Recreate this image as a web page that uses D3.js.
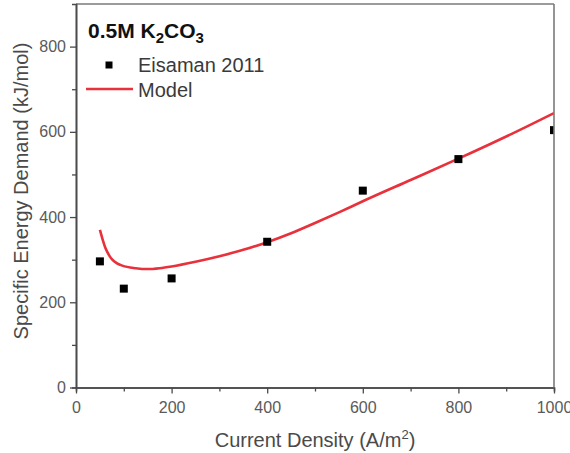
<!DOCTYPE html>
<html>
<head>
<meta charset="utf-8">
<script src="https://cdn.jsdelivr.net/npm/d3@7"></script>
<style>
  html, body { margin: 0; padding: 0; background: #fff; }
  svg { display: block; font-family: "Liberation Sans", Arial, sans-serif; }
</style>
</head>
<body>
<svg id="chart" width="570" height="453"></svg>
<script>
// ---- data ----
const expX = [50, 100, 200, 400, 600, 800, 1000];
const expY = [296, 232, 256, 342, 462, 536, 604];

const modelX = [50, 55, 62, 70, 76, 85, 97, 125, 150, 175, 200, 250, 300, 350, 400, 450, 500, 550, 600, 700, 800, 900, 1000];
const modelY = [370, 350, 326, 309, 300, 292, 286, 280, 278, 280, 284, 295, 308, 323, 341, 362, 386, 411, 437, 487, 537, 589, 644];

const xTicks = [0, 200, 400, 600, 800, 1000];
const xMinor = [100, 300, 500, 700, 900];
const yTicks = [0, 200, 400, 600, 800];
const yMinor = [100, 300, 500, 700];

const titleMain = "0.5M K";
const legendLabels = ["Eisaman 2011", "Model"];
const xLabel = "Current Density (A/m";
const yLabel = "Specific Energy Demand (kJ/mol)";

// ---- layout ----
const svg = d3.select("#chart");
const L = 76, R = 554, T = 4, B = 387.5;
const x = d3.scaleLinear().domain([0, 1000]).range([L, R]);
const y = d3.scaleLinear().domain([0, 900]).range([B, T]);
const red = "#e8313b";
const axisCol = "#4a4a4a";

svg.append("defs").append("clipPath").attr("id", "clip")
  .append("rect").attr("x", L).attr("y", T).attr("width", R - L).attr("height", B - T);

// frame top
svg.append("line").attr("x1", L).attr("x2", R).attr("y1", T).attr("y2", T)
  .attr("stroke", "#7a7a7a").attr("stroke-width", 1.6);

// minor ticks
const gx = svg.append("g").attr("transform", `translate(0,${B})`);
gx.call(d3.axisBottom(x).tickValues(xMinor).tickSize(4).tickFormat(""));
const gy = svg.append("g").attr("transform", `translate(${L},0)`);
gy.call(d3.axisLeft(y).tickValues(yMinor).tickSize(4).tickFormat(""));

// major axes
const ax = svg.append("g").attr("transform", `translate(0,${B})`)
  .call(d3.axisBottom(x).tickValues(xTicks).tickSize(6).tickPadding(8).tickSizeOuter(0).tickFormat(d3.format("d")));
const ay = svg.append("g").attr("transform", `translate(${L},0)`)
  .call(d3.axisLeft(y).tickValues(yTicks).tickSize(6).tickPadding(4).tickSizeOuter(0).tickFormat(d3.format("d")));

[gx, gy, ax, ay].forEach(g => {
  g.selectAll(".domain").attr("stroke", axisCol).attr("stroke-width", 1.6);
  g.selectAll(".tick line").attr("stroke", axisCol).attr("stroke-width", 1.3);
  g.selectAll(".tick text").attr("fill", "#5a5a5a")
    .style("font-size", "16px").style("font-family", "'Liberation Sans', Arial, sans-serif");
});

// model curve
const plot = svg.append("g").attr("clip-path", "url(#clip)");
const modelData = modelX.map((v, i) => [v, modelY[i]]);
plot.append("path").datum(modelData)
  .attr("fill", "none").attr("stroke", red).attr("stroke-width", 2.6)
  .attr("d", d3.line().x(d => x(d[0])).y(d => y(d[1])).curve(d3.curveMonotoneX));

// experiment points
const sq = 8;
plot.selectAll("rect.pt").data(expX.map((v, i) => [v, expY[i]])).enter()
  .append("rect").attr("class", "pt")
  .attr("x", d => x(d[0]) - sq / 2).attr("y", d => y(d[1]) - sq / 2)
  .attr("width", sq).attr("height", sq).attr("fill", "#000");

// right border on top
svg.append("line").attr("x1", R).attr("x2", R).attr("y1", T).attr("y2", B)
  .attr("stroke", "#7a7a7a").attr("stroke-width", 1.6);

// title
const title = svg.append("text").attr("x", 88).attr("y", 38)
  .attr("font-weight", "bold").attr("font-size", 21).attr("fill", "#111");
title.append("tspan").text(titleMain);
title.append("tspan").attr("font-size", 15).attr("dy", 5).text("2");
title.append("tspan").attr("dy", -5).text("CO");
title.append("tspan").attr("font-size", 15).attr("dy", 5).text("3");

// legend
svg.append("rect").attr("x", 109 - 3.5).attr("y", 65 - 3.5).attr("width", 7).attr("height", 7).attr("fill", "#000");
svg.append("text").attr("x", 138).attr("y", 72).attr("font-size", 20).attr("fill", "#3a3a3a").text(legendLabels[0]);
svg.append("line").attr("x1", 86).attr("x2", 133).attr("y1", 89).attr("y2", 89)
  .attr("stroke", red).attr("stroke-width", 2.6);
svg.append("text").attr("x", 138).attr("y", 97).attr("font-size", 20).attr("fill", "#3a3a3a").text(legendLabels[1]);

// axis labels
const xl = svg.append("text").attr("x", (L + R) / 2).attr("y", 447)
  .attr("text-anchor", "middle").attr("font-size", 20).attr("fill", "#4a4a4a");
xl.append("tspan").text(xLabel);
xl.append("tspan").attr("font-size", 13).attr("dy", -8).text("2");
xl.append("tspan").attr("dy", 8).text(")");

svg.append("text").attr("transform", "translate(28,191) rotate(-90)")
  .attr("text-anchor", "middle").attr("font-size", 20).attr("fill", "#4a4a4a")
  .text(yLabel);
</script>
</body>
</html>
